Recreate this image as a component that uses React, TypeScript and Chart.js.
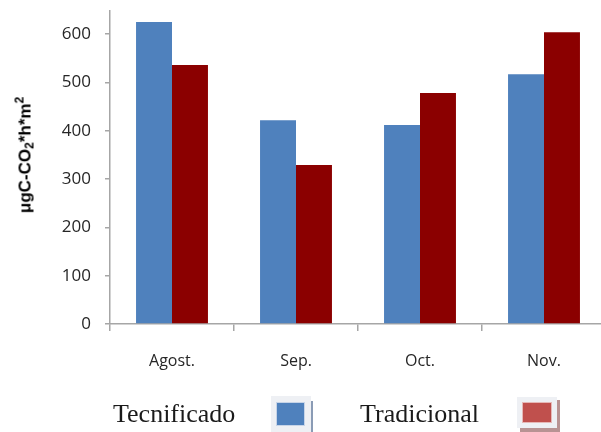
import React, { useEffect, useRef } from "react";
import { Chart, registerables } from "chart.js";

Chart.register(...registerables);

const categories = ["Agost.", "Sep.", "Oct.", "Nov."];
const tecnificado = [625, 422, 412, 517];
const tradicional = [536, 329, 478, 604];
const yTicks = [0, 100, 200, 300, 400, 500, 600];
const seriesNames = ["Tecnificado", "Tradicional"];

export default function App() {
  const ref = useRef<HTMLCanvasElement | null>(null);

  useEffect(() => {
    if (!ref.current) return;
    const chart = new Chart(ref.current, {
      type: "bar",
      data: {
        labels: categories,
        datasets: [
          {
            label: seriesNames[0],
            data: tecnificado,
            backgroundColor: "#4f81bd",
            borderWidth: 0,
          },
          {
            label: seriesNames[1],
            data: tradicional,
            backgroundColor: "#8b0000",
            borderWidth: 0,
          },
        ],
      },
      options: {
        responsive: false,
        animation: false,
        devicePixelRatio: 1,
        layout: { padding: { top: 11, right: 0, bottom: 0, left: 0 } },
        datasets: {
          bar: { categoryPercentage: 0.58, barPercentage: 1 },
        },
        plugins: {
          legend: { display: false },
          tooltip: { enabled: false },
          title: { display: false },
        },
        scales: {
          x: {
            grid: {
              drawOnChartArea: false,
              drawTicks: true,
              tickLength: 7,
              color: "#a6a6a6",
              lineWidth: 1.5,
            },
            border: { color: "#a6a6a6", width: 1.5 },
            ticks: {
              color: "#262626",
              font: { family: "'Open Sans', sans-serif", size: 16 },
              padding: 21,
            },
            afterFit: (scale: any) => {
              scale.height = 108;
              scale.paddingLeft = 0;
              scale.paddingRight = 0;
            },
          },
          y: {
            min: 0,
            max: 648,
            afterBuildTicks: (scale: any) => {
              scale.ticks = yTicks.map((v) => ({ value: v }));
            },
            grid: {
              drawOnChartArea: false,
              drawTicks: true,
              tickLength: 5,
              color: "#a6a6a6",
              lineWidth: 1.5,
            },
            border: { color: "#a6a6a6", width: 1.5 },
            ticks: {
              color: "#262626",
              font: { family: "'Open Sans', sans-serif", size: 17 },
              padding: 14,
            },
            afterFit: (scale: any) => {
              scale.width = 110;
              scale.paddingTop = 0;
              scale.paddingBottom = 0;
            },
          },
        },
      },
    });
    return () => chart.destroy();
  }, []);

  return (
    <div
      style={{
        position: "fixed",
        left: 0,
        top: 0,
        width: 601,
        height: 432,
        overflow: "hidden",
        background: "#fff",
      }}
    >
      <canvas ref={ref} width={606} height={432} style={{ position: "absolute", left: 0, top: 0 }} />
      <div
        style={{
          position: "absolute",
          left: 25,
          top: 155,
          transform: "translate(-50%, -50%) rotate(-90deg)",
          whiteSpace: "nowrap",
          fontFamily: "Arial, 'Liberation Sans', sans-serif",
          fontWeight: "bold",
          fontSize: 17,
          color: "#000",
          lineHeight: 1,
        }}
      >
        μgC-CO<sub style={{ fontSize: 12, verticalAlign: "-3px", lineHeight: 0 }}>2</sub>*h*m
        <sup style={{ fontSize: 12, verticalAlign: "7px", lineHeight: 0 }}>2</sup>
      </div>
      {/* Legend */}
      <div
        style={{
          position: "absolute",
          left: 113,
          top: 396,
          fontFamily: "'Liberation Serif', 'Times New Roman', serif",
          fontSize: 26,
          color: "#1a1a1a",
          lineHeight: "36px",
          whiteSpace: "nowrap",
        }}
      >
        {seriesNames[0]}
      </div>
      <div style={{ position: "absolute", left: 271, top: 396, width: 40, height: 36, background: "#eef0f4" }} />
      <div style={{ position: "absolute", left: 277, top: 403, width: 27, height: 22, background: "#4f81bd", boxShadow: "0 0 0 1px #c6d4e8" }} />
      <div style={{ position: "absolute", left: 311, top: 401, width: 2, height: 31, background: "#8a9bb5" }} />
      <div
        style={{
          position: "absolute",
          left: 360,
          top: 396,
          fontFamily: "'Liberation Serif', 'Times New Roman', serif",
          fontSize: 26,
          color: "#1a1a1a",
          lineHeight: "36px",
          whiteSpace: "nowrap",
        }}
      >
        {seriesNames[1]}
      </div>
      <div style={{ position: "absolute", left: 520, top: 400, width: 40, height: 32, background: "#b89393" }} />
      <div style={{ position: "absolute", left: 517, top: 397, width: 40, height: 31, background: "#eef0f4" }} />
      <div style={{ position: "absolute", left: 523, top: 403, width: 28, height: 19, background: "#c0504d", boxShadow: "0 0 0 1px #e6b8b7" }} />
    </div>
  );
}
